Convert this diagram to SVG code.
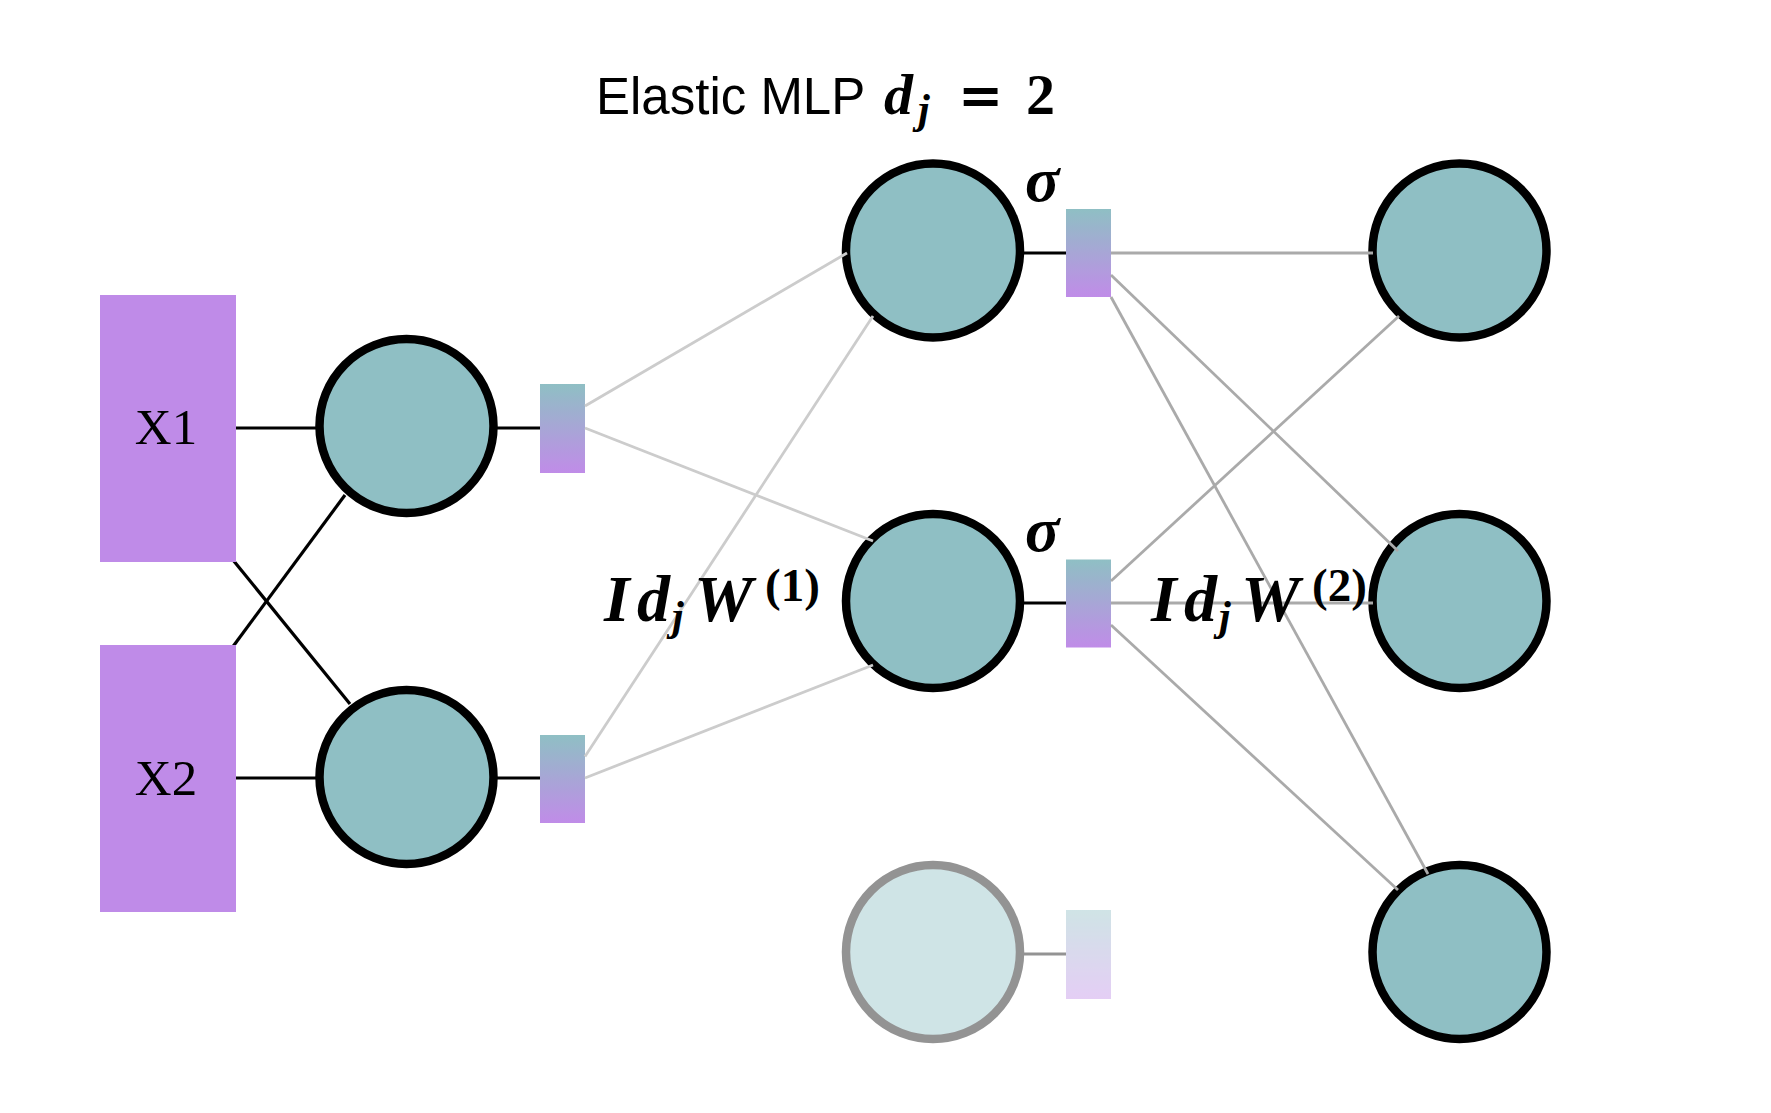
<svg xmlns="http://www.w3.org/2000/svg" width="1771" height="1113" viewBox="0 0 1771 1113">
<defs>
<linearGradient id="grad" x1="0" y1="0" x2="0" y2="1">
<stop offset="0" stop-color="#8fbfc4"/>
<stop offset="1" stop-color="#c08ce8"/>
</linearGradient>
<style>
.inp{fill:#bf8be8}
.neu{fill:#8fbfc4;stroke:#000;stroke-width:8.5}
.act{fill:url(#grad)}
.blk{stroke:#000;stroke-width:3.2;fill:none}
.l1{stroke:#cccccc;stroke-width:2.8;fill:none}
.l2{stroke:#aaaaaa;stroke-width:2.8;fill:none}
.xl{font-family:"Liberation Serif",serif;font-size:51px;fill:#000;text-anchor:middle}
.mi{font-family:"Liberation Serif",serif;font-style:italic;font-weight:bold;fill:#000}
.mr{font-family:"Liberation Serif",serif;font-weight:bold;fill:#000}
.sig{font-family:"Liberation Serif",serif;font-style:italic;font-weight:bold;font-size:64px;fill:#000}
</style>
</defs>
<rect width="1771" height="1113" fill="#fff"/>

<g id="title">
<text x="596" y="114" font-family="Liberation Sans, Arial, sans-serif" font-size="51" fill="#000">Elastic MLP</text>
<text y="114" fill="#000"><tspan x="884" font-family="Liberation Serif, serif" font-style="italic" font-weight="bold" font-size="58">d</tspan><tspan x="918" y="123" font-family="Liberation Serif, serif" font-style="italic" font-weight="bold" font-size="42">j</tspan><tspan x="958" y="114" font-family="DejaVu Serif, serif" font-weight="bold" font-size="54">=</tspan><tspan x="1026" y="114" font-family="Liberation Serif, serif" font-weight="bold" font-size="58">2</tspan></text>
</g>

<g id="connectors-back">
<line class="blk" x1="233" y1="428" x2="320" y2="428"/>
<line class="blk" x1="233" y1="778" x2="320" y2="778"/>
<line class="blk" x1="233" y1="560" x2="350" y2="704"/>
<line class="blk" x1="233" y1="646.5" x2="345" y2="495"/>
<line class="blk" x1="493" y1="428" x2="540" y2="428"/>
<line class="blk" x1="493" y1="778" x2="540" y2="778"/>
<line class="blk" x1="1020" y1="253" x2="1066" y2="253"/>
<line class="blk" x1="1020" y1="603" x2="1066" y2="603"/>
</g>

<g id="x1"><rect class="inp" x="100" y="295" width="136" height="267"/><text class="xl" x="166" y="444">X1</text></g>
<g id="x2"><rect class="inp" x="100" y="645" width="136" height="267"/><text class="xl" x="166" y="795">X2</text></g>

<g id="h1"><circle class="neu" cx="406.5" cy="426" r="87"/></g>
<g id="h2"><circle class="neu" cx="406.5" cy="777" r="87"/></g>
<g id="a1"><rect class="act" x="540" y="384" width="45" height="89"/></g>
<g id="a2"><rect class="act" x="540" y="735" width="45" height="88"/></g>

<g id="m1"><circle class="neu" cx="933" cy="250.5" r="87"/><text class="sig" x="1025" y="201">σ</text></g>
<g id="m2"><circle class="neu" cx="933" cy="601" r="87"/><text class="sig" x="1025" y="551">σ</text></g>
<g id="b1"><rect class="act" x="1066" y="209" width="45" height="88"/></g>
<g id="b2"><rect class="act" x="1066" y="559.5" width="45" height="88"/></g>

<g id="m3" opacity="0.42">
<line x1="1020" y1="954" x2="1066" y2="954" stroke="#000" stroke-width="3.2"/>
<circle class="neu" cx="933" cy="952" r="87"/>
<rect class="act" x="1066" y="910" width="45" height="89"/>
</g>

<g id="o1"><circle class="neu" cx="1459.5" cy="250.5" r="87"/></g>
<g id="o2"><circle class="neu" cx="1459.5" cy="601" r="87"/></g>
<g id="o3"><circle class="neu" cx="1459.5" cy="952" r="87"/></g>

<g id="connectors">
<line class="l1" x1="585" y1="406" x2="847" y2="253"/>
<line class="l1" x1="585" y1="428" x2="873" y2="541"/>
<line class="l1" x1="585" y1="756.5" x2="873" y2="316"/>
<line class="l1" x1="585" y1="778" x2="873" y2="665"/>
<line class="l2" x1="1111" y1="253" x2="1373" y2="253"/>
<line class="l2" x1="1111" y1="275" x2="1398" y2="551"/>
<line class="l2" x1="1111" y1="297" x2="1428" y2="874"/>
<line class="l2" x1="1111" y1="581" x2="1399" y2="316"/>
<line class="l2" x1="1111" y1="603" x2="1373" y2="603"/>
<line class="l2" x1="1111" y1="625" x2="1398" y2="890"/>
</g>

<g id="label-w1">
<text class="mi" y="621"><tspan x="604" font-size="66">I</tspan><tspan x="637" font-size="66">d</tspan><tspan x="672" y="630" font-size="42">j</tspan><tspan x="694" y="621" font-size="66">W</tspan><tspan class="mr" x="765" y="601" font-size="47" font-style="normal">(1)</tspan></text>
</g>
<g id="label-w2">
<text class="mi" y="621"><tspan x="1151" font-size="66">I</tspan><tspan x="1184" font-size="66">d</tspan><tspan x="1219" y="630" font-size="42">j</tspan><tspan x="1241" y="621" font-size="66">W</tspan><tspan class="mr" x="1312" y="601" font-size="47" font-style="normal">(2)</tspan></text>
</g>
</svg>
